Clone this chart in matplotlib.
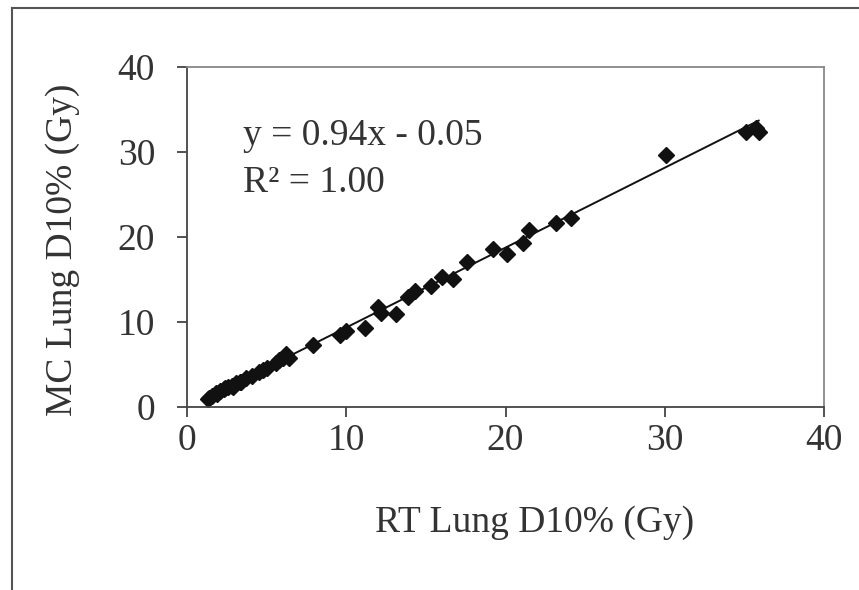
import matplotlib
matplotlib.use("Agg")
import matplotlib.pyplot as plt
from matplotlib.lines import Line2D
import numpy as np

rt_dose = [1.3, 1.4, 1.6, 1.8, 1.9, 2.1, 2.3, 2.4, 2.6, 2.8, 2.9, 3.1, 3.3, 3.4, 3.7, 4.1, 4.5, 4.8, 5.0,
           5.6, 5.8, 6.0, 6.2, 6.4, 7.9, 9.6, 10.0, 11.2, 12.0, 12.2, 13.1, 13.9, 14.3, 15.3, 16.0,
           16.7, 17.6, 19.2, 20.1, 21.1, 21.5, 23.2, 24.1, 30.1, 35.1, 35.7, 35.9]
mc_dose = [0.9, 1.1, 1.3, 1.6, 1.5, 1.9, 2.1, 2.2, 2.4, 2.5, 2.4, 2.8, 3.0, 3.0, 3.4, 3.6, 4.1, 4.3, 4.6,
           5.2, 5.5, 5.8, 6.2, 5.8, 7.3, 8.5, 8.9, 9.3, 11.75, 11.1, 10.9, 12.9, 13.7, 14.2, 15.3,
           15.1, 17.1, 18.6, 18.0, 19.3, 20.8, 21.7, 22.2, 29.7, 32.4, 32.8, 32.4]
fit_slope = 0.94
fit_intercept = -0.05
x_ticks = [0, 10, 20, 30, 40]
y_ticks = [0, 10, 20, 30, 40]

W, H = 859, 590
FS = 27
TXT = '#333333'
plt.rcParams['font.family'] = ['Liberation Serif', 'DejaVu Serif']
fig = plt.figure(figsize=(W/100, H/100), dpi=100)
ax = fig.add_axes([187/W, 1-407/H, (824-187)/W, (407-67)/H])

ax.plot(rt_dose, mc_dose, linestyle='none', marker='D', color='#111111', markersize=8.5)
xf = np.array([min(rt_dose), max(rt_dose)])
ax.plot(xf, fit_slope*xf + fit_intercept, color='#111111', lw=1.4)

ax.set_xlim(0, 40)
ax.set_ylim(0, 40)
ax.set_xticks(x_ticks)
ax.set_yticks(y_ticks)
ax.tick_params(direction='out', length=7, width=1.3, labelsize=FS, color='#444444', labelcolor=TXT)
ax.tick_params(axis='x', pad=5)
ax.tick_params(axis='y', pad=16)
for s in ['left', 'bottom']:
    ax.spines[s].set_color('#444444')
    ax.spines[s].set_linewidth(1.3)
for s in ['top', 'right']:
    ax.spines[s].set_color('#888888')
    ax.spines[s].set_linewidth(1.3)

fig.text(535/W, 1-532/H, 'RT Lung D10% (Gy)', fontsize=FS, color=TXT, ha='center', va='baseline')
fig.text(63/W, 1-250/H, 'MC Lung D10% (Gy)', fontsize=FS, color=TXT, ha='center', va='center', rotation=90)
ax.text(0.088, 0.77, 'y = 0.94x - 0.05', transform=ax.transAxes, fontsize=FS, color=TXT, va='baseline')
ax.text(0.088, 0.632, 'R² = 1.00', transform=ax.transAxes, fontsize=FS, color=TXT, va='baseline')

# outer frame
fig.add_artist(Line2D([12/W, 12/W], [0, 1-8/H], transform=fig.transFigure, color='#555555', lw=1.5))
fig.add_artist(Line2D([12/W, 1], [1-8/H, 1-8/H], transform=fig.transFigure, color='#555555', lw=1.5))

fig.savefig('out.png', dpi=100)
